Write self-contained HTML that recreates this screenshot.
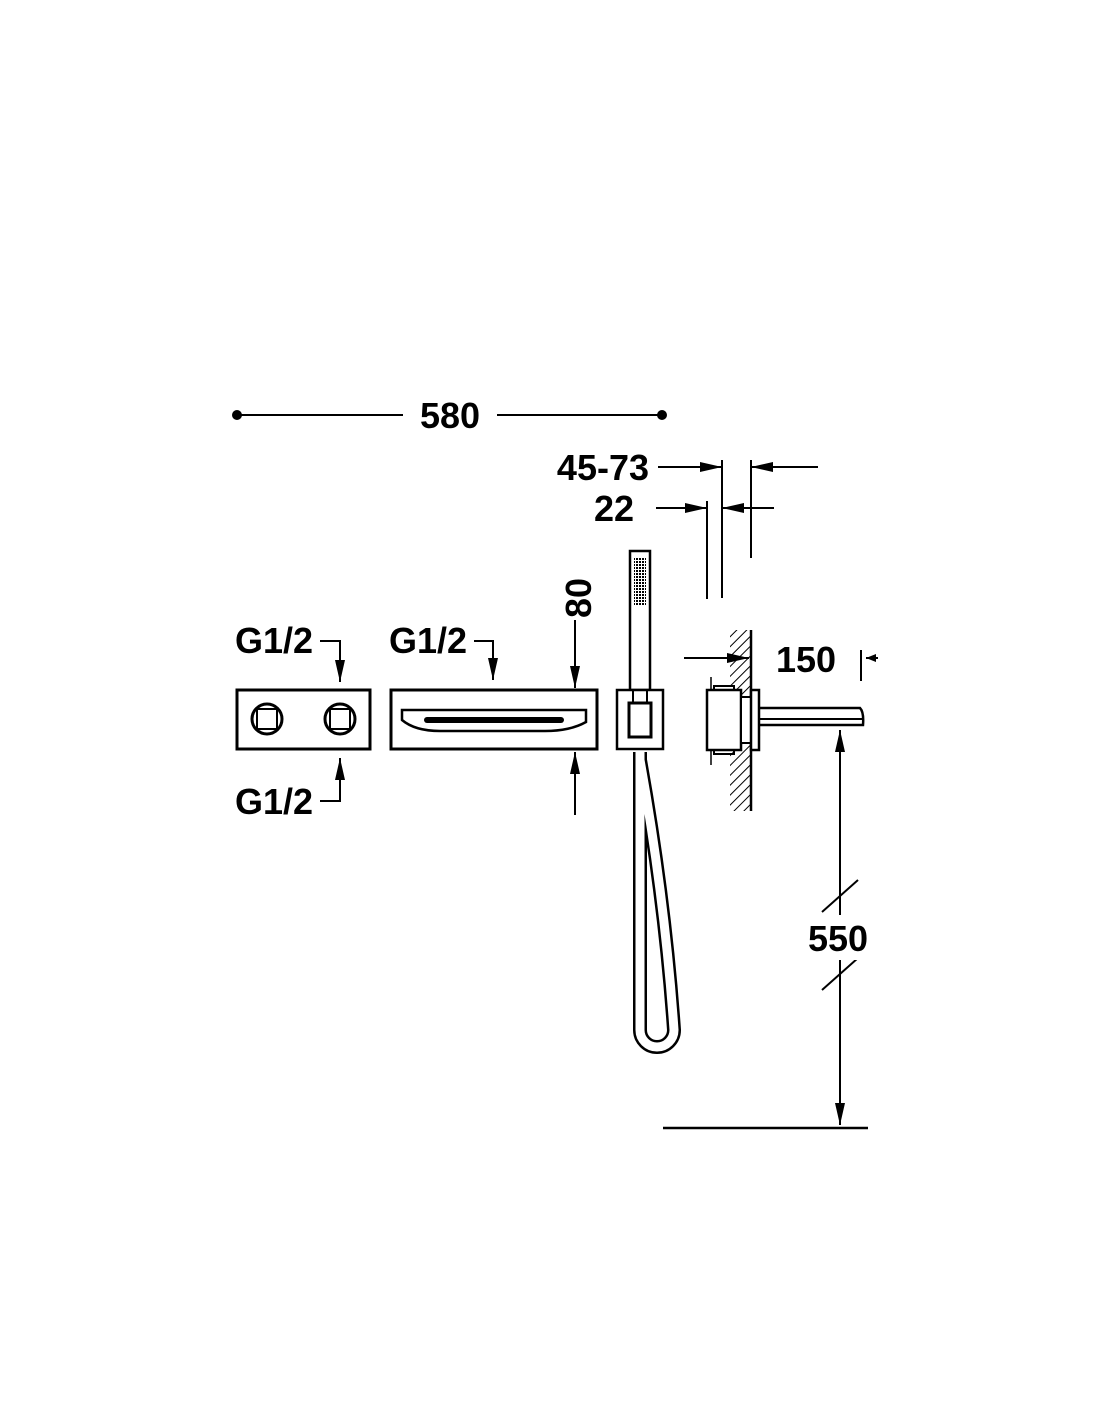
<!DOCTYPE html>
<html><head><meta charset="utf-8"><style>body{margin:0;background:#fff}svg{display:block}text{font-family:"Liberation Sans",sans-serif;font-weight:bold;font-size:36px;fill:#000}</style></head>
<body>
<svg width="1100" height="1422" viewBox="0 0 1100 1422" xmlns="http://www.w3.org/2000/svg">
<defs>
<marker id="a" markerWidth="10" markerHeight="8" refX="10" refY="4" orient="auto" markerUnits="userSpaceOnUse" viewBox="0 0 10 8"><path d="M0,0 L10,4 L0,8z" fill="#000"/></marker>
<marker id="b" markerWidth="22" markerHeight="10" refX="22" refY="5" orient="auto" markerUnits="userSpaceOnUse" viewBox="0 0 22 10"><path d="M0,0 L22,5 L0,10z" fill="#000"/></marker>
<pattern id="h" width="7" height="7" patternUnits="userSpaceOnUse" patternTransform="rotate(45)"><line x1="0" y1="0" x2="0" y2="7" stroke="#000" stroke-width="2"/></pattern>
<pattern id="d" width="3" height="3" patternUnits="userSpaceOnUse"><rect width="2" height="2" fill="#000"/></pattern>
</defs>
<g stroke="#000" stroke-width="2" fill="none">
<circle cx="237" cy="415" r="4" fill="#000"/><circle cx="662" cy="415" r="4" fill="#000"/>
<line x1="237" y1="415" x2="403" y2="415"/><line x1="497" y1="415" x2="662" y2="415"/>
<line x1="722" y1="460" x2="722" y2="598"/><line x1="751" y1="460" x2="751" y2="558"/><line x1="707" y1="501" x2="707" y2="599"/>
<line x1="658" y1="467" x2="722" y2="467" marker-end="url(#b)"/><line x1="818" y1="467" x2="751" y2="467" marker-end="url(#b)"/>
<line x1="656" y1="508" x2="707" y2="508" marker-end="url(#b)"/><line x1="774" y1="508" x2="722" y2="508" marker-end="url(#b)"/>
<rect x="237" y="690" width="133" height="59" stroke-width="3"/>
<circle cx="267" cy="719" r="15" stroke-width="3"/><rect x="257" y="709" width="20" height="20" stroke-width="2"/>
<circle cx="340" cy="719" r="15" stroke-width="3"/><rect x="330" y="709" width="20" height="20" stroke-width="2"/>
<polyline points="320,641 340,641 340,682" marker-end="url(#b)"/>
<polyline points="320,801 340,801 340,758" marker-end="url(#b)"/>
<polyline points="474,641 493,641 493,680" marker-end="url(#b)"/>
<rect x="391" y="690" width="206" height="59" stroke-width="3"/>
<path d="M402,710 L586,710 L586,722 Q570,731 545,731 L440,731 Q415,731 402,720 Z" stroke-width="2.5"/>
<line x1="427" y1="720" x2="561" y2="720" stroke-width="6" stroke-linecap="round"/>
<line x1="575" y1="620" x2="575" y2="688" marker-end="url(#b)"/>
<line x1="575" y1="815" x2="575" y2="752" marker-end="url(#b)"/>
<path d="M640,752 L640,1030 A17,17 0 0 0 674,1030 Q665,900 640,760" stroke-width="14"/>
<path d="M640,752 L640,1030 A17,17 0 0 0 674,1030 Q665,900 640,760" stroke="#fff" stroke-width="9"/>
<rect x="630" y="551" width="20" height="139" fill="#fff" stroke-width="2.5"/>
<rect x="634" y="558" width="12" height="48" fill="url(#d)" stroke="none"/>
<rect x="617" y="690" width="46" height="59" fill="#fff" stroke-width="2.5"/>
<rect x="629" y="703" width="22" height="34" stroke-width="3"/>
<line x1="633" y1="690" x2="633" y2="703"/><line x1="647" y1="690" x2="647" y2="703"/>
<rect x="730" y="630" width="21" height="181" fill="url(#h)" stroke="none"/>
<line x1="751" y1="630" x2="751" y2="811" stroke-width="2.5"/>
<line x1="711" y1="677" x2="711" y2="765" stroke-width="1.5"/>
<rect x="707" y="690" width="34" height="60" fill="#fff" stroke-width="2.5"/>
<rect x="714" y="686" width="20" height="4"/><rect x="714" y="750" width="20" height="4"/>
<rect x="741" y="697" width="10" height="46" fill="#fff"/>
<rect x="751" y="690" width="8" height="60" fill="#fff" stroke-width="2.5"/>
<path d="M759,708 L860,708 Q864,712 863,725 L759,725" stroke-width="2.5"/>
<line x1="759" y1="719" x2="862" y2="719" stroke-width="2"/>
<line x1="684" y1="658" x2="749" y2="658" marker-end="url(#b)"/>
<line x1="861" y1="650" x2="861" y2="681"/><line x1="878" y1="658" x2="866" y2="658" marker-end="url(#a)"/>
<line x1="840" y1="1020" x2="840" y2="730" marker-end="url(#b)"/>
<line x1="840" y1="1000" x2="840" y2="1125" marker-end="url(#b)"/>
<line x1="822" y1="912" x2="858" y2="880"/><line x1="822" y1="990" x2="858" y2="958"/>
<line x1="663" y1="1128" x2="868" y2="1128" stroke-width="2.5"/>
</g>
<rect x="800" y="915" width="80" height="45" fill="#fff"/>
<text x="450" y="428" text-anchor="middle">580</text>
<text x="649" y="480" text-anchor="end">45-73</text>
<text x="634" y="521" text-anchor="end">22</text>
<text x="235" y="653">G1/2</text>
<text x="389" y="653">G1/2</text>
<text x="235" y="814">G1/2</text>
<text x="776" y="672">150</text>
<text x="838" y="951" text-anchor="middle">550</text>
<text transform="translate(591,598) rotate(-90)" text-anchor="middle">80</text>
</svg>
</body></html>
